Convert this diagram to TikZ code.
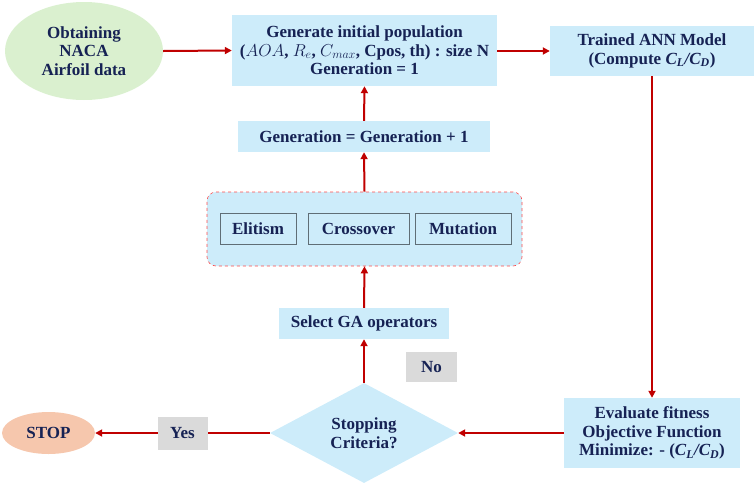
\documentclass[tikz,border=0pt]{standalone}
\usepackage{fontspec}
\setmainfont{Liberation Serif}
\usetikzlibrary{shapes.geometric, arrows.meta}

\definecolor{boxblue}{RGB}{205,236,250}
\definecolor{leafgreen}{RGB}{218,240,207}
\definecolor{stoporange}{RGB}{246,199,173}
\definecolor{taggray}{RGB}{218,218,218}
\definecolor{inknavy}{RGB}{22,34,84}
\definecolor{flowred}{RGB}{192,0,0}
\definecolor{edgegray}{RGB}{95,110,118}

\begin{document}
\begin{tikzpicture}[
  x=1pt, y=-1pt,
  every node/.style={text=inknavy, font=\fontsize{17}{18.5}\selectfont\bfseries, align=center, inner sep=0pt},
  blk/.style={rectangle, fill=boxblue},
  opblk/.style={rectangle, fill=boxblue, draw=edgegray, line width=0.9pt, minimum height=31},
  tag/.style={rectangle, fill=taggray},
  arr/.style={-{Triangle[length=7pt, width=7pt]}, line width=2pt, flowred},
]
\useasboundingbox (0,0) rectangle (755,485);

% Blocks
\node[ellipse, fill=leafgreen, minimum width=158, minimum height=98] (DATA) at (84,51)
  {Obtaining\\NACA\\Airfoil data};
\node[blk, minimum width=265, minimum height=71] (INIT) at (364.5,50.5)
  {Generate initial population\\($AOA$, $R_e$, $C_{max}$, Cpos, th) : size N\\Generation = 1};
\node[blk, minimum width=204, minimum height=50] (ANN) at (652,51)
  {Trained ANN Model\\(Compute \textit{C\textsubscript{L}/C\textsubscript{D}})};
\node[blk, minimum width=252, minimum height=31] (INCR) at (364,136.5)
  {Generation = Generation + 1};

% GA operators group
\node[rectangle, rounded corners=9pt, fill=boxblue, draw=red!70, dashed, line width=0.6pt,
      minimum width=315, minimum height=74] (OPS) at (364.5,229) {};
\node[opblk, minimum width=76]  (ELIT)  at (258,228.5)   {Elitism};
\node[opblk, minimum width=101] (CROSS) at (358.5,228.5) {Crossover};
\node[opblk, minimum width=96]  (MUT)   at (463,228.5)   {Mutation};

\node[blk, minimum width=170, minimum height=31] (SEL) at (364,323.5)
  {Select GA operators};
\node[diamond, fill=boxblue, minimum width=188, minimum height=100, aspect=1.88] (CRIT) at (364,433)
  {Stopping\\Criteria?};
\node[blk, minimum width=176, minimum height=70] (EVAL) at (652,433)
  {Evaluate fitness\\Objective Function\\Minimize: - (\textit{C\textsubscript{L}/C\textsubscript{D}})};
\node[ellipse, fill=stoporange, minimum width=93, minimum height=42] (STOP) at (48.5,433)
  {STOP};
\node[tag, minimum width=51, minimum height=30] (NO) at (431.5,367) {No};

% Arrows between blocks
\draw[arr] (DATA.east) -- (INIT.west);
\draw[arr] (INIT.east |- ANN.west) -- (ANN.west);
\draw[arr] (ANN.south) -- (EVAL.north);
\draw[arr] (EVAL.west) -- (CRIT.east);
\draw[arr] (CRIT.west) -- node[tag, minimum width=50, minimum height=33] (YES) {Yes} (STOP.east);
\draw[arr] (CRIT.north) -- (SEL.south);
\draw[arr] (SEL.north) -- (OPS.south);
\draw[arr] (OPS.north) -- (INCR.south);
\draw[arr] (INCR.north) -- (INIT.south);

\end{tikzpicture}
\end{document}
